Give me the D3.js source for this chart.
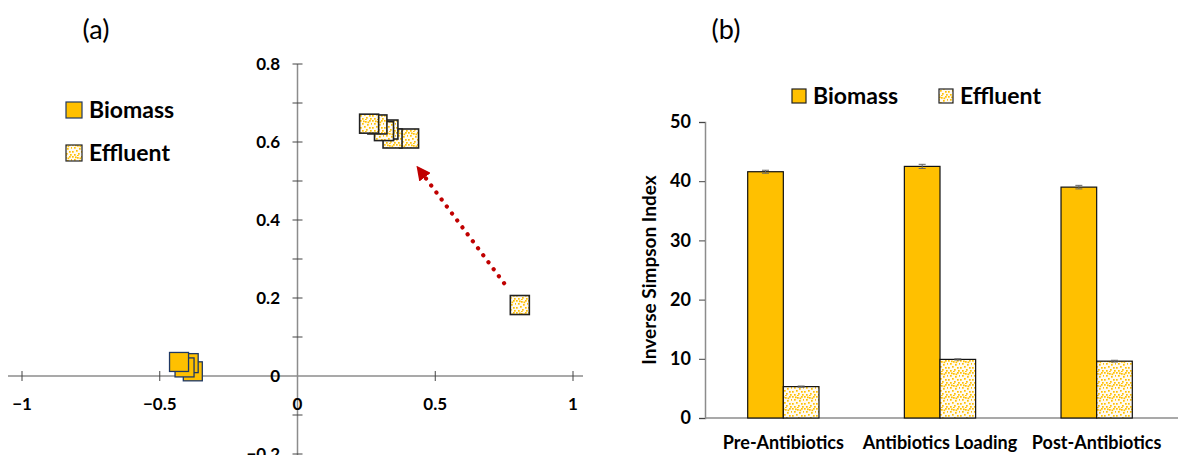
<!DOCTYPE html>
<html>
<head>
<meta charset="utf-8">
<script src="https://cdn.jsdelivr.net/npm/d3@7"></script>
<style>
  body { margin: 0; background: #fff; }
  text { font-family: Lato, "Liberation Sans", sans-serif; }
</style>
</head>
<body>
<svg id="chart" width="1178" height="455"></svg>
<script>
// ---- panel (a): ordination scatter ----
var biomassPts = [[-0.38, 0.012], [-0.395, 0.033], [-0.41, 0.022], [-0.43, 0.036]];
var effluentPts = [[0.405, 0.609], [0.345, 0.609], [0.33, 0.632], [0.314, 0.628], [0.29, 0.645], [0.26, 0.647], [0.807, 0.182]];
var arrowFrom = [0.75, 0.238];
var arrowTo = [0.435, 0.536];
var xTicksA = [-1, -0.5, 0, 0.5, 1];
var yTicksA = [-0.2, 0, 0.2, 0.4, 0.6, 0.8];
var yMinorA = [-0.1, 0.1, 0.3, 0.5, 0.7];

// ---- panel (b): inverse simpson bars ----
var stages = ['Pre-Antibiotics', 'Antibiotics Loading', 'Post-Antibiotics'];
var biomassIdx = [41.6, 42.5, 39.0];
var biomassErr = [0.25, 0.35, 0.3];
var effluentIdx = [5.3, 9.9, 9.6];
var effluentErr = [0.1, 0.1, 0.15];
var yTicksB = [0, 10, 20, 30, 40, 50];

var gold = '#FFC000', axisGray = '#8c8c8c';
var svg = d3.select('#chart');

// dotted fill used for the Effluent series
var defs = svg.append('defs');
var pat = defs.append('pattern').attr('id', 'dots')
    .attr('patternUnits', 'userSpaceOnUse').attr('width', 12).attr('height', 12);
pat.append('rect').attr('width', 12).attr('height', 12).attr('fill', '#fffaf0');
[[0, 0], [5, 1], [9, 0], [2, 3], [7, 4], [11, 3], [4, 6], [0, 7], [9, 7],
 [6, 9], [2, 10], [10, 10], [3, 0.5], [7.5, 1.5], [5, 11]].forEach(function(p) {
    pat.append('rect').attr('x', p[0]).attr('y', p[1]).attr('width', 1.7).attr('height', 1.7).attr('fill', gold);
});
defs.append('marker').attr('id', 'head')
    .attr('viewBox', '0 0 10 10').attr('refX', 9).attr('refY', 5)
    .attr('markerWidth', 3.4).attr('markerHeight', 3.4).attr('markerUnits', 'strokeWidth')
    .attr('orient', 'auto')
  .append('path').attr('d', 'M0,0L10,5L0,10z').attr('fill', '#C00000');

// ================= (a) =================
var xA = d3.scaleLinear().domain([-1, 1]).range([22, 573]);
var yA = d3.scaleLinear().domain([-0.2, 0.8]).range([454, 64]);
var gA = svg.append('g');

gA.append('text').attr('x', 96).attr('y', 39).attr('text-anchor', 'middle')
    .style('font-size', '27px').text('(a)');

// axes lines
gA.append('line').attr('x1', 8).attr('x2', 583).attr('y1', yA(0)).attr('y2', yA(0))
    .attr('stroke', axisGray).attr('stroke-width', 1.5);
gA.append('line').attr('x1', xA(0)).attr('x2', xA(0)).attr('y1', yA(0.8)).attr('y2', 455)
    .attr('stroke', axisGray).attr('stroke-width', 1.5);

// cross ticks
gA.selectAll('.xt').data(xTicksA.filter(function(d) { return d !== 0; })).enter().append('line')
    .attr('x1', function(d) { return xA(d); }).attr('x2', function(d) { return xA(d); })
    .attr('y1', yA(0) - 5).attr('y2', yA(0) + 5).attr('stroke', '#444').attr('stroke-width', 1);
gA.selectAll('.yt').data(yTicksA.concat(yMinorA).filter(function(d) { return d !== 0; })).enter().append('line')
    .attr('x1', xA(0) - 5).attr('x2', xA(0) + 5)
    .attr('y1', function(d) { return yA(d); }).attr('y2', function(d) { return yA(d); })
    .attr('stroke', '#444').attr('stroke-width', 1);

gA.selectAll('.xl').data(xTicksA).enter().append('text')
    .attr('x', function(d) { return xA(d); }).attr('y', yA(0) + 34)
    .attr('text-anchor', 'middle').style('font-size', '17px').style('font-weight', 'bold')
    .text(function(d) { return d3.format('')(d); });
gA.selectAll('.yl').data(yTicksA).enter().append('text')
    .attr('x', 280).attr('y', function(d) { return yA(d); }).attr('dy', '0.36em')
    .attr('text-anchor', 'end').style('font-size', '17px').style('font-weight', 'bold')
    .text(function(d) { return d3.format('')(d); });

// arrow
gA.append('line')
    .attr('x1', xA(arrowFrom[0])).attr('y1', yA(arrowFrom[1]))
    .attr('x2', xA(arrowTo[0])).attr('y2', yA(arrowTo[1]))
    .attr('stroke', '#C00000').attr('stroke-width', 4.2)
    .attr('stroke-linecap', 'round').attr('stroke-dasharray', '0.1 8.6')
    .attr('marker-end', 'url(#head)');

var sq = 19;
gA.selectAll('.bio').data(biomassPts).enter().append('rect')
    .attr('x', function(d) { return xA(d[0]) - sq / 2; })
    .attr('y', function(d) { return yA(d[1]) - sq / 2; })
    .attr('width', sq).attr('height', sq)
    .attr('fill', gold).attr('stroke', '#1F3864').attr('stroke-width', 1.3);
gA.selectAll('.eff').data(effluentPts).enter().append('rect')
    .attr('x', function(d) { return xA(d[0]) - sq / 2; })
    .attr('y', function(d) { return yA(d[1]) - sq / 2; })
    .attr('width', sq).attr('height', sq)
    .attr('fill', 'url(#dots)').attr('stroke', '#222').attr('stroke-width', 1.6);

// legend (a)
var legA = [{ name: 'Biomass', fill: gold, stroke: '#1F3864', y: 110 },
            { name: 'Effluent', fill: 'url(#dots)', stroke: '#222', y: 153 }];
legA.forEach(function(l) {
    gA.append('rect').attr('x', 66).attr('y', l.y - 8).attr('width', 16).attr('height', 16)
        .attr('fill', l.fill).attr('stroke', l.stroke).attr('stroke-width', 1.2);
    gA.append('text').attr('x', 89).attr('y', l.y).attr('dy', '0.36em')
        .style('font-size', '23px').style('font-weight', 'bold').text(l.name);
});

// ================= (b) =================
var gB = svg.append('g');
var xB = d3.scaleBand().domain(stages).range([705, 1175]).paddingInner(0.545).paddingOuter(0.2725);
var xSub = d3.scaleBand().domain(['Biomass', 'Effluent']).range([0, xB.bandwidth()]);
var yB = d3.scaleLinear().domain([0, 50]).range([418, 122]);

gB.append('text').attr('x', 726).attr('y', 39).attr('text-anchor', 'middle')
    .style('font-size', '27px').text('(b)');

var yAxisB = d3.axisLeft(yB).tickValues(yTicksB).tickSize(6).tickPadding(8);
var gy = gB.append('g').attr('transform', 'translate(705,0)').call(yAxisB);
gy.select('.domain').attr('stroke', axisGray).attr('stroke-width', 1.5);
gy.selectAll('.tick line').attr('stroke', '#444');
gy.selectAll('.tick text').style('font-size', '18px').style('font-weight', 'bold')
    .style('font-family', 'Lato, sans-serif').attr('fill', '#000');

gB.append('line').attr('x1', 705).attr('x2', 1178).attr('y1', yB(0)).attr('y2', yB(0))
    .attr('stroke', axisGray).attr('stroke-width', 1.5);

gB.append('text').attr('transform', 'translate(656,' + ((yB(0) + yB(50)) / 2) + ') rotate(-90)')
    .attr('text-anchor', 'middle').style('font-size', '19px').style('font-weight', 'bold')
    .text('Inverse Simpson Index');

gB.selectAll('.catl').data(stages).enter().append('text')
    .attr('x', function(d) { return xB(d) + xB.bandwidth() / 2; }).attr('y', 449)
    .attr('text-anchor', 'middle').style('font-size', '18px').style('font-weight', 'bold')
    .text(function(d) { return d; });

var series = [{ key: 'Biomass', vals: biomassIdx, errs: biomassErr, fill: gold },
              { key: 'Effluent', vals: effluentIdx, errs: effluentErr, fill: 'url(#dots)' }];
series.forEach(function(s) {
    var g = gB.append('g');
    g.selectAll('rect').data(stages).enter().append('rect')
        .attr('x', function(d) { return xB(d) + xSub(s.key); })
        .attr('y', function(d, i) { return yB(s.vals[i]); })
        .attr('width', xSub.bandwidth())
        .attr('height', function(d, i) { return yB(0) - yB(s.vals[i]); })
        .attr('fill', s.fill).attr('stroke', '#111').attr('stroke-width', 1.2);
    // error bars
    stages.forEach(function(d, i) {
        var cx = xB(d) + xSub(s.key) + xSub.bandwidth() / 2;
        var lo = yB(s.vals[i] - s.errs[i]), hi = yB(s.vals[i] + s.errs[i]);
        g.append('line').attr('x1', cx).attr('x2', cx).attr('y1', lo).attr('y2', hi)
            .attr('stroke', '#666').attr('stroke-width', 1);
        [lo, hi].forEach(function(yy) {
            g.append('line').attr('x1', cx - 3.5).attr('x2', cx + 3.5).attr('y1', yy).attr('y2', yy)
                .attr('stroke', '#666').attr('stroke-width', 1);
        });
    });
});

// legend (b)
var legB = [{ name: 'Biomass', fill: gold, stroke: '#222', x: 792 },
            { name: 'Effluent', fill: 'url(#dots)', stroke: '#222', x: 939 }];
legB.forEach(function(l) {
    gB.append('rect').attr('x', l.x).attr('y', 89).attr('width', 14).attr('height', 14)
        .attr('fill', l.fill).attr('stroke', l.stroke).attr('stroke-width', 1.2);
    gB.append('text').attr('x', l.x + 21).attr('y', 96).attr('dy', '0.36em')
        .style('font-size', '23px').style('font-weight', 'bold').text(l.name);
});
</script>
</body>
</html>
